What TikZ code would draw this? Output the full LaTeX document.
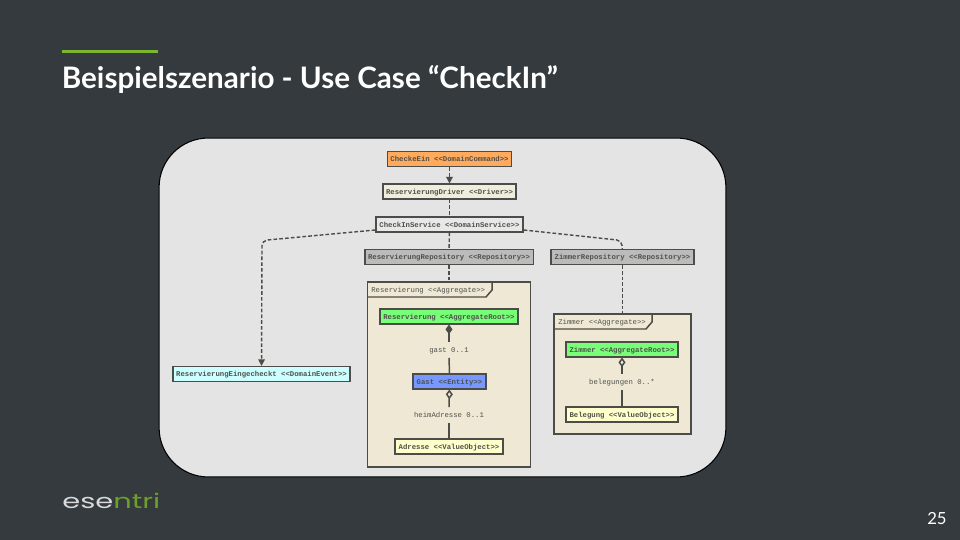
\documentclass[tikz,border=0pt]{standalone}
\usepackage{fontspec}
\setmainfont{Lato}
\setmonofont{Liberation Mono}
\newfontfamily\logofont{Poppins}
\usetikzlibrary{positioning, arrows.meta, calc}
\definecolor{myBack}{RGB}{52,58,62}
\definecolor{myGreen}{RGB}{122,182,48}
\definecolor{myLogo}{RGB}{108,160,40}
\definecolor{myPanel}{RGB}{228,228,228}
\definecolor{myLine}{RGB}{76,76,72}
\definecolor{myText}{RGB}{80,80,76}
\definecolor{myCream}{RGB}{238,232,213}
\definecolor{myOrange}{RGB}{255,170,92}
\definecolor{myRoot}{RGB}{119,255,119}
\definecolor{myBlue}{RGB}{119,153,255}
\definecolor{myYellow}{RGB}{255,255,204}
\definecolor{myCyan}{RGB}{204,255,255}
\definecolor{myGray}{RGB}{187,187,187}
\definecolor{myService}{RGB}{232,232,232}

\begin{document}
\begin{tikzpicture}[
  x=0.02cm, y=-0.02cm,
  box/.style={draw=myLine, line width=0.85pt, inner sep=0pt, text=myText, text height=3.6pt, text depth=0.4pt,
    font=\ttfamily\bfseries\fontsize{4.15}{5}\selectfont, minimum height=8.3pt},
  frame/.style={draw=myLine, line width=0.85pt, fill=myCream, inner sep=0pt},
  frametext/.style={font=\ttfamily\fontsize{4.15}{5}\selectfont, text=myText, anchor=west, inner sep=0pt,
    text height=3.6pt, text depth=0.4pt},
  role/.style={font=\ttfamily\fontsize{4.15}{5}\selectfont, text=myText, inner sep=0pt, minimum height=8.5pt,
    text height=3.6pt, text depth=0.4pt},
  dep/.style={draw=myLine, line width=0.8pt, dash pattern=on 2.1pt off 1.2pt},
  deparrow/.style={dep, -{Triangle[length=3.8pt, width=3.8pt, fill=myLine]}},
  has/.style={draw=myLine, line width=0.85pt},
]
  \fill[myBack] (0,0) rectangle (960,540);
  \useasboundingbox (0,0) rectangle (960,540);

  % head and foot of the slide
  \node[fill=myGreen, minimum width=54.6pt, minimum height=1.9pt, inner sep=0pt] (bar) at (110,51.5) {};
  \node[anchor=base west, inner sep=0pt, text=white, font=\bfseries\fontsize{16.85}{19}\selectfont] (title) at (61.5,88.5)
    {Beispielszenario - Use Case “CheckIn”};
  \node[anchor=base west, inner sep=0pt, font=\logofont\fontsize{11.5}{13}\selectfont] (logo) at (62,508)
    {\scalebox{1.43}[1]{\textcolor{white!85!black}{ese}\textcolor{myLogo}{ntri}}};
  \node[anchor=base east, inner sep=0pt, text=white, font=\fontsize{9.5}{11}\selectfont] (page) at (947,524) {25};

  % panel
  \node[draw=black, line width=0.6pt, fill=myPanel, rounded corners=28pt, inner sep=0pt,
    minimum width=322.6pt, minimum height=192.9pt] (panel) at (442.5,307.5) {};

  % aggregate frames
  \node[frame, minimum width=93pt, minimum height=105.3pt] (resFrame) at (449,374.5) {};
  \draw[frame, fill=none] (367.5,297) -- (486,297) -- (492,290) -- (492,282);
  \node[frametext] (resTag) at (371,290) {Reservierung <<Aggregate>>};
  \node[frame, minimum width=78pt, minimum height=68.3pt] (zimFrame) at (622.5,374) {};
  \draw[frame, fill=none] (554,329) -- (646,329) -- (652,322) -- (652,314);
  \node[frametext] (zimTag) at (558,322) {Zimmer <<Aggregate>>};

  % boxes
  \node[box, fill=myOrange, minimum width=70.6pt] (command) at (449.5,159) {CheckeEin <<DomainCommand>>};
  \node[box, fill=myCream!80!white, minimum width=75.7pt] (driver) at (449.5,191.5) {ReservierungDriver <<Driver>>};
  \node[box, fill=myService, minimum width=83.6pt] (service) at (449.5,224.5) {CheckInService <<DomainService>>};
  \node[box, fill=myGray, minimum width=95.9pt] (resRepo) at (449,257) {ReservierungRepository <<Repository>>};
  \node[box, fill=myGray, minimum width=81.4pt] (zimRepo) at (622.5,257) {ZimmerRepository <<Repository>>};
  \node[box, fill=myCyan, minimum width=100.7pt] (event) at (261.5,374) {ReservierungEingecheckt <<DomainEvent>>};
  \node[box, fill=myRoot, minimum width=78.5pt] (resRoot) at (449,316.5) {Reservierung <<AggregateRoot>>};
  \node[box, fill=myBlue, minimum width=41.5pt] (gast) at (449.5,381.5) {Gast <<Entity>>};
  \node[box, fill=myYellow, minimum width=61.5pt] (adresse) at (449,446.5) {Adresse <<ValueObject>>};
  \node[box, fill=myRoot, minimum width=63.7pt] (zimRoot) at (622,349.5) {Zimmer <<AggregateRoot>>};
  \node[box, fill=myYellow, minimum width=63.7pt] (belegung) at (622,414.5) {Belegung <<ValueObject>>};

  % role labels
  \node[role] (gastRole) at (449,350) {gast 0..1};
  \node[role] (heimRole) at (449,415) {heimAdresse 0..1};
  \node[role] (belegRole) at (622,382) {belegungen 0..*};

  % dependencies
  \draw[deparrow] (command) -- (driver);
  \draw[dep] (driver) -- (service);
  \draw[dep] (service) -- (resRepo);
  \draw[dep] (resRepo) -- (resFrame.north -| resRepo);
  \draw[deparrow, rounded corners=3pt] (service.west |- 0,230) -- (262,240.5) -- (event);
  \draw[dep, rounded corners=3pt] (service.east |- 0,230) -- (622,240.5) -- (zimRepo);
  \draw[dep] (zimRepo) -- (zimFrame.north -| zimRepo);

  % associations
  \draw[has, {Diamond[length=5.5pt, width=4pt, fill=myLine]}-] (resRoot) -- (gastRole);
  \draw[has] (gastRole) -- (gast);
  \draw[has, {Diamond[length=5.5pt, width=4pt, open, fill=myCream]}-] (gast) -- (heimRole);
  \draw[has] (heimRole) -- (adresse);
  \draw[has, {Diamond[length=5.5pt, width=4pt, open, fill=myCream]}-] (zimRoot) -- (belegRole);
  \draw[has] (belegRole) -- (belegung);
\end{tikzpicture}
\end{document}
